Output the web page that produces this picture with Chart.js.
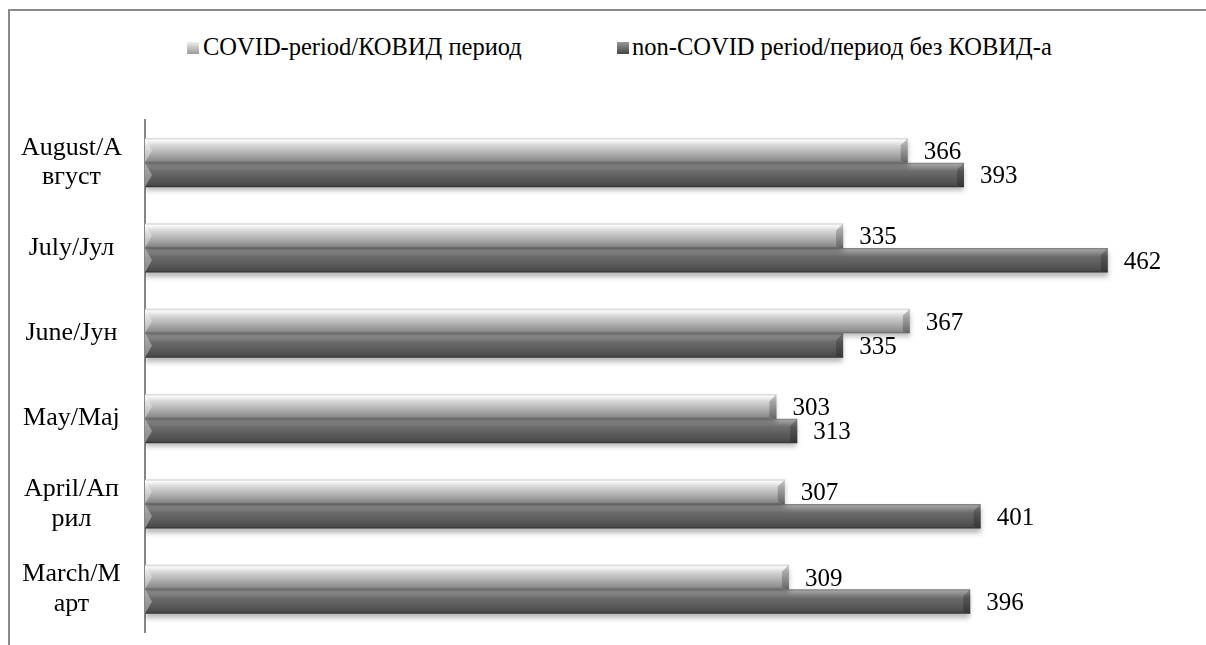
<!DOCTYPE html>
<html>
<head>
<meta charset="utf-8">
<script src="https://cdn.jsdelivr.net/npm/chart.js@4"></script>
<style>
  html, body { margin: 0; padding: 0; background: #fff; }
  #wrap { position: relative; width: 1206px; height: 645px; overflow: hidden; }
  #frame { position: absolute; left: 8px; top: 9px; width: 1210px; height: 650px;
           border-top: 2px solid #8a8a8a; border-left: 2px solid #8a8a8a; }
  #chart { position: absolute; left: 0; top: 0; }
  .leg { position: absolute; top: 33px; font-family: "Liberation Serif", "Times New Roman", serif; font-size: 24.5px; color: #000; white-space: nowrap; }
  .leg i { position: absolute; top: 9px; width: 12px; height: 12px; }
</style>
</head>
<body>
<div id="wrap">
  <div id="frame"></div>
  <div class="leg" style="left:187px"><i style="left:0;background:linear-gradient(#eee,#9a9a9a)"></i><span style="margin-left:16px">COVID-period/КОВИД период</span></div>
  <div class="leg" style="left:617px"><i style="left:0;background:linear-gradient(#999,#444)"></i><span style="margin-left:15px">non-COVID period/период без КОВИД-а</span></div>
  <canvas id="chart" width="1206" height="645"></canvas>
</div>
<script>
// месеци (одозго надоле)
const months = [['August/А', 'вгуст'], 'July/Јул', 'June/Јун', 'May/Мај', ['April/Ап', 'рил'], ['March/М', 'арт']];
const covidValues = [366, 335, 367, 303, 307, 309];
const nonCovidValues = [393, 462, 335, 313, 401, 396];
const seriesNames = ['COVID-period/КОВИД период', 'non-COVID period/период без КОВИД-а'];

const serif = '"Liberation Serif", "Times New Roman", serif';

// gradient stops for the "cylinder" look of each series
const barStops = [
  [[0, '#c8c8c8'], [0.08, '#fbfbfb'], [0.3, '#d6d6d6'], [0.7, '#a6a6a6'], [0.92, '#8c8c8c'], [1, '#5e5e5e']],
  [[0, '#7a7a7a'], [0.08, '#a0a0a0'], [0.35, '#6c6c6c'], [0.75, '#555555'], [0.92, '#4a4a4a'], [1, '#2e2e2e']],
];

// sets a vertical gradient on every bar, plus a soft shadow
const bevelBars = {
  id: 'bevelBars',
  beforeDatasetDraw(chart, args) {
    const ctx = chart.ctx;
    const stops = barStops[args.index];
    args.meta.data.forEach((el) => {
      const top = el.y - el.height / 2;
      const g = ctx.createLinearGradient(0, top, 0, top + el.height);
      stops.forEach((s) => g.addColorStop(s[0], s[1]));
      el.options = Object.assign({}, el.options, { backgroundColor: g });
    });
    ctx.save();
    ctx.shadowColor = 'rgba(0,0,0,0.28)';
    ctx.shadowBlur = 5;
    ctx.shadowOffsetY = 4;
  },
  afterDatasetDraw(chart, args) {
    const ctx = chart.ctx;
    ctx.restore();
    // little bevel on the ends of each bar
    ctx.save();
    args.meta.data.forEach((el) => {
      const top = el.y - el.height / 2;
      const bot = el.y + el.height / 2;
      const x0 = el.base;
      const x1 = el.x;
      const b = 7;
      ctx.fillStyle = 'rgba(255,255,255,0.35)';
      ctx.beginPath();
      ctx.moveTo(x0, top);
      ctx.lineTo(x0 + b, el.y);
      ctx.lineTo(x0, bot);
      ctx.closePath();
      ctx.fill();
      ctx.fillStyle = 'rgba(0,0,0,0.22)';
      ctx.beginPath();
      ctx.moveTo(x1, top);
      ctx.lineTo(x1 - b, top + b);
      ctx.lineTo(x1 - b, bot - 2);
      ctx.lineTo(x1, bot);
      ctx.closePath();
      ctx.fill();
    });
    ctx.restore();
  },
  afterDatasetsDraw(chart) {
    const ctx = chart.ctx;
    ctx.save();
    ctx.font = '25px ' + serif;
    ctx.fillStyle = '#000';
    ctx.textBaseline = 'middle';
    chart.data.datasets.forEach((ds, i) => {
      chart.getDatasetMeta(i).data.forEach((el, j) => {
        ctx.fillText(ds.data[j], el.x + 16, el.y + 2);
      });
    });
    ctx.restore();
  },
};

const data = {
  labels: months,
  datasets: [
    { label: seriesNames[0], data: covidValues, backgroundColor: '#b0b0b0' },
    { label: seriesNames[1], data: nonCovidValues, backgroundColor: '#555555' },
  ],
};

new Chart(document.getElementById('chart'), {
  type: 'bar',
  data: data,
  plugins: [bevelBars],
  options: {
    indexAxis: 'y',
    responsive: false,
    animation: false,
    categoryPercentage: 0.575,
    barPercentage: 1,
    layout: { padding: { left: 8, right: 19, top: 120, bottom: 13 } },
    scales: {
      x: { display: false, min: 0, max: 500 },
      y: {
        grid: { display: false },
        border: { display: true, color: '#868686', width: 2 },
        afterFit: (scale) => {
          scale.width = 137;
          scale.paddingTop = 0;
          scale.paddingBottom = 0;
        },
        ticks: {
          crossAlign: 'center',
          padding: 15,
          color: '#000',
          font: { family: serif, size: 26, lineHeight: 1.15 },
        },
      },
    },
    plugins: {
      legend: { display: false },
      tooltip: { enabled: false },
    },
  },
});
</script>
</body>
</html>
